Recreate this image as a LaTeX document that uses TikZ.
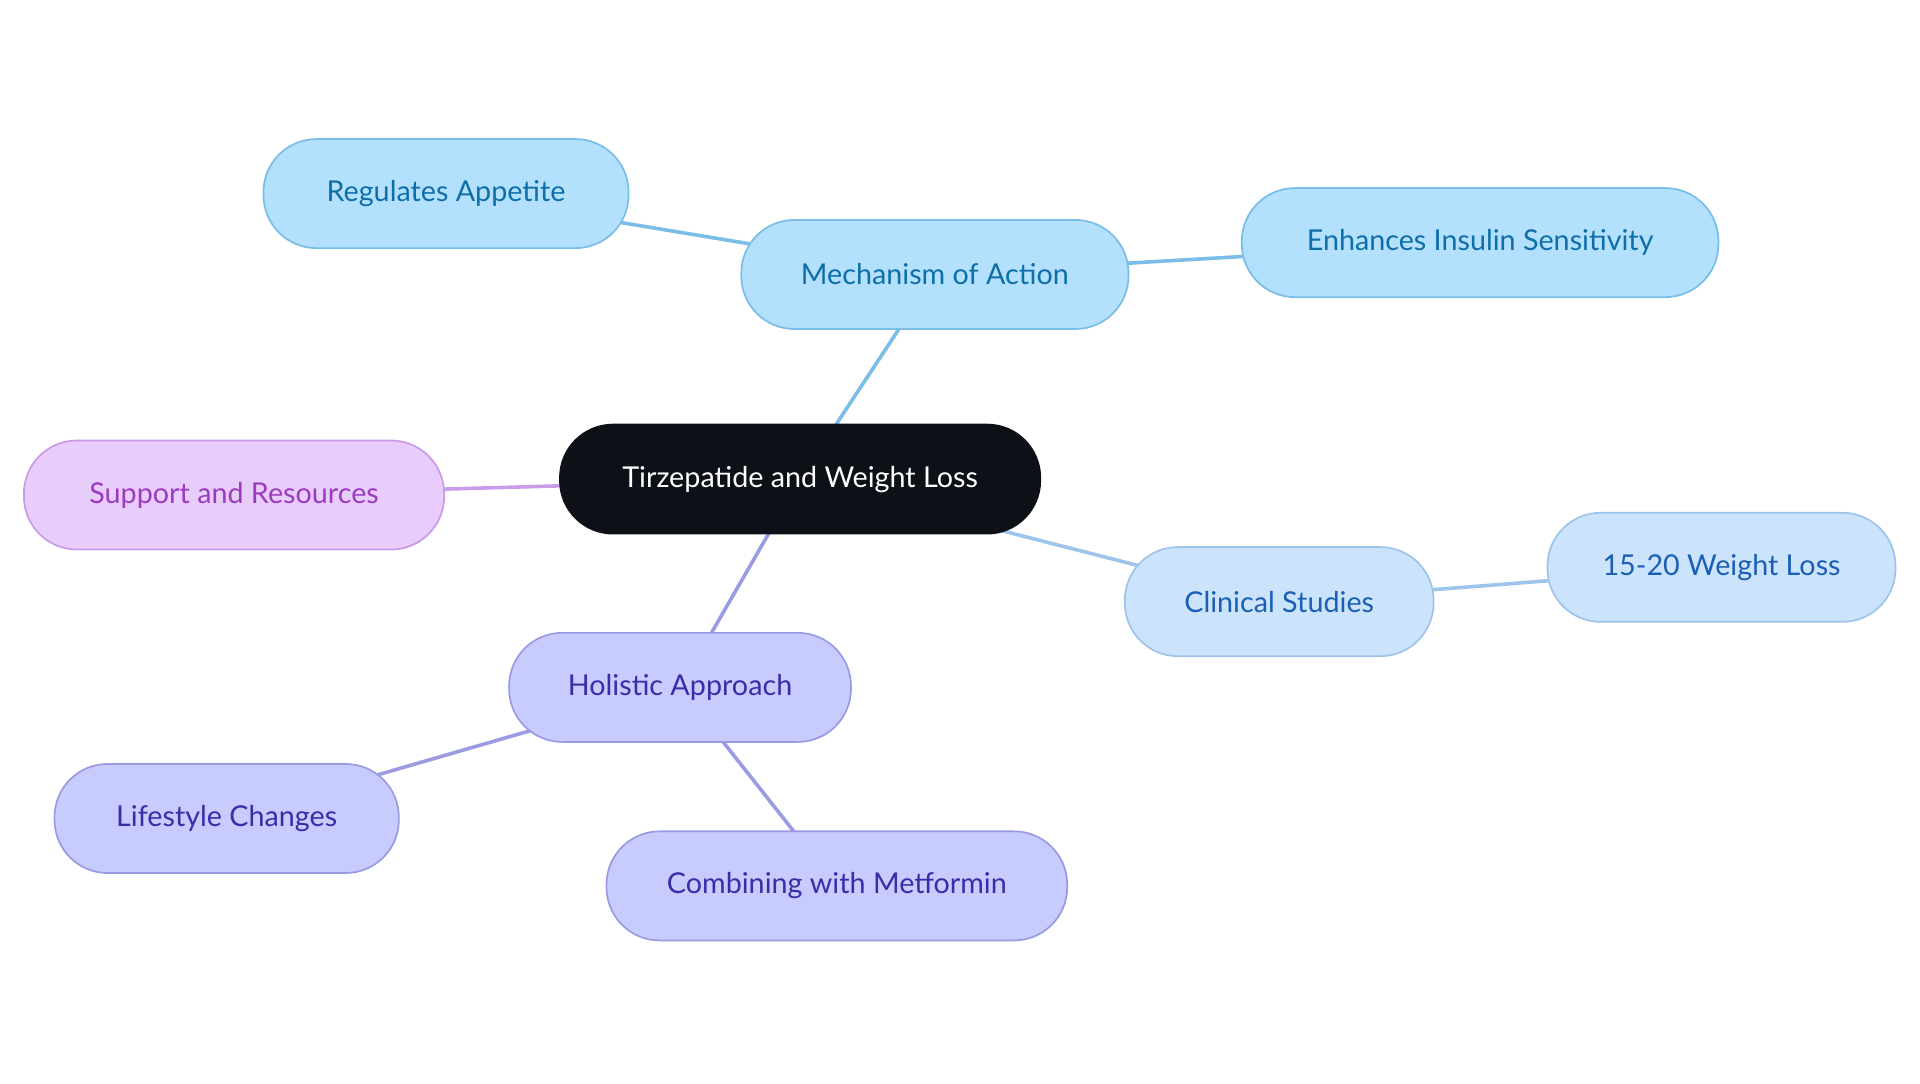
\documentclass[tikz,border=0pt]{standalone}
\usepackage{fontspec}
\setmainfont{Lato}
\usetikzlibrary{backgrounds}
\definecolor{bF}{HTML}{B3E0FD}\definecolor{bS}{HTML}{7ABDE6}\definecolor{bT}{HTML}{0E6FA8}
\definecolor{cF}{HTML}{CCE4FB}\definecolor{cS}{HTML}{9DC4EA}\definecolor{cT}{HTML}{1B5FB5}
\definecolor{hF}{HTML}{C8CBFD}\definecolor{hS}{HTML}{9A9BE3}\definecolor{hT}{HTML}{3A2DA8}
\definecolor{sF}{HTML}{E8CCFB}\definecolor{sS}{HTML}{C99BE8}\definecolor{sT}{HTML}{9C3BC0}
\definecolor{dark}{HTML}{0D1117}
\begin{document}
\begin{tikzpicture}[x=0.03cm,y=-0.03cm,
 box/.style={draw,line width=1.2pt,rounded corners=1.3cm,minimum height=2.67cm,font=\fontsize{20}{24}\selectfont,inner sep=0pt},
 blu/.style={box,fill=bF,draw=bS,text=bT},
 cli/.style={box,fill=cF,draw=cS,text=cT},
 hol/.style={box,fill=hF,draw=hS,text=hT},
 sup/.style={box,fill=sF,draw=sS,text=sT},
 ln/.style={line width=2.5pt}]
\path[use as bounding box] (0,0) rectangle (1567,884);
\node[box,fill=dark,draw=dark,text=white,minimum width=392*0.03cm] (c) at (653,391) {Tirzepatide and Weight Loss};
\node[blu,minimum width=316*0.03cm] (m) at (763,224) {Mechanism of Action};
\node[blu,minimum width=298*0.03cm] (r) at (364,158) {Regulates Appetite};
\node[blu,minimum width=389*0.03cm] (e) at (1208,198) {Enhances Insulin Sensitivity};
\node[sup,minimum width=343*0.03cm] (s) at (191,404) {Support and Resources};
\node[cli,minimum width=252*0.03cm] (k) at (1044,491) {Clinical Studies};
\node[cli,minimum width=284*0.03cm] (w) at (1405,463) {15-20 Weight Loss};
\node[hol,minimum width=279*0.03cm] (h) at (555,561) {Holistic Approach};
\node[hol,minimum width=281*0.03cm] (l) at (185,668) {Lifestyle Changes};
\node[hol,minimum width=376*0.03cm] (cm) at (683,723) {Combining with Metformin};
\begin{scope}[on background layer]
\draw[ln,bS] (c.center) -- (m.center) (m.center) -- (r.center) (m.center) -- (e.center);
\draw[ln,cS] (c.center) -- (k.center) (k.center) -- (w.center);
\draw[ln,sS] (c.center) -- (s.center);
\draw[ln,hS] (c.center) -- (h.center) (h.center) -- (l.center) (h.center) -- (cm.center);
\end{scope}
\end{tikzpicture}
\end{document}
